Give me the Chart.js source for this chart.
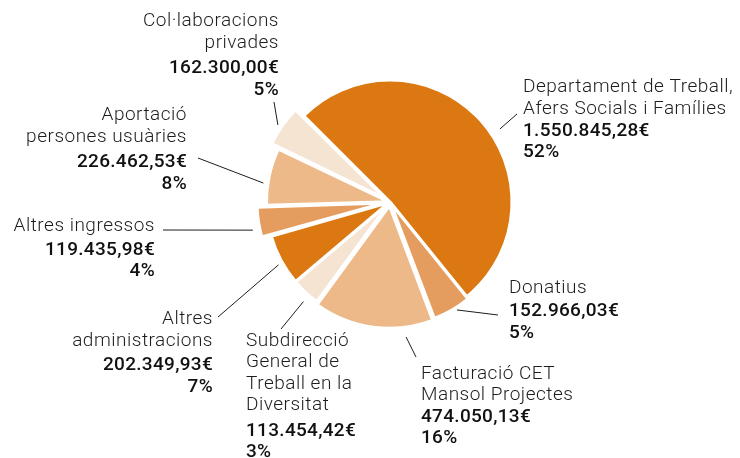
<!DOCTYPE html>
<html>
<head>
<meta charset="utf-8">
<script src="https://cdn.jsdelivr.net/npm/chart.js@4"></script>
<style>
  html, body { margin: 0; padding: 0; background: #fff; }
  #chartCanvas { display: block; }
</style>
</head>
<body>
<canvas id="chartCanvas" width="740" height="458"></canvas>
<script>
// dades
const categories = [
    'Departament de Treball,\nAfers Socials i Famílies',
    'Donatius',
    'Facturació CET\nMansol Projectes',
    'Subdirecció\nGeneral de\nTreball en la\nDiversitat',
    'Altres\nadministracions',
    'Altres ingressos',
    'Aportació\npersones usuàries',
    'Col·laboracions\nprivades'
];
const amounts = [1550845.28, 152966.03, 474050.13, 113454.42, 202349.93, 119435.98, 226462.53, 162300.00];
const percents = ['52%', '5%', '16%', '3%', '7%', '4%', '8%', '5%'];

const colors = ['#dc7811', '#e59d5f', '#edb989', '#f6e4d2', '#dc7811', '#e59d5f', '#edb989', '#f6e4d2'];
const explode = [0, 6, 15, 4, 4, 25, 4, 24];

// posició de les etiquetes: x, alineació, y de la primera línia, salt abans de l'import,
// i la línia guia (angle i radi d'inici respecte al centre, punt final)
const labelLayout = [
    { x: 523, align: 'left',  y: 87.5, gap: 22,   ang: -33.6, r: 132, ex: 517, ey: 114 },
    { x: 509, align: 'left',  y: 288.5, gap: 23,  ang: 58.2,  r: 127, ex: 498, ey: 315 },
    { x: 421, align: 'left',  y: 374, gap: 21.5,  ang: 83.2,  r: 136, ex: 416, ey: 357 },
    { x: 246, align: 'left',  y: 341, gap: 25.5,  ang: 131,   r: 132, ex: 281, ey: 329 },
    { x: 213, align: 'right', y: 319.5, gap: 24.5, ang: 150.6, r: 128, ex: 218, ey: 317 },
    { x: 155, align: 'right', y: 226.5, gap: 23.5, ang: 168.4, r: 140, ex: 163, ey: 230 },
    { x: 187, align: 'right', y: 115.5, gap: 25.5, ang: 188.5, r: 128, ex: 198, ey: 158 },
    { x: 279, align: 'right', y: 21.5, gap: 25.5,  ang: 214.5, r: 136, ex: 274, ey: 102 }
];

function formatEuro(v) {
    const parts = v.toFixed(2).split('.');
    const intPart = parts[0].replace(/\B(?=(\d{3})+(?!\d))/g, '.');
    return intPart + ',' + parts[1] + '€';
}

const lineH = 21.5;

const labelsPlugin = {
    id: 'pieLabels',
    afterDraw(chart) {
        const ctx = chart.ctx;
        const meta = chart.getDatasetMeta(0);
        ctx.save();
        meta.data.forEach((arc, i) => {
            const lay = labelLayout[i];
            const a = lay.ang * Math.PI / 180;
            // línia guia
            ctx.strokeStyle = '#1d1d1b';
            ctx.lineWidth = 1;
            ctx.beginPath();
            ctx.moveTo(arc.x + Math.cos(a) * lay.r, arc.y + Math.sin(a) * lay.r);
            ctx.lineTo(lay.ex, lay.ey);
            ctx.stroke();

            ctx.fillStyle = '#1d1d1b';
            ctx.textAlign = lay.align;
            ctx.textBaseline = 'middle';
            let y = lay.y;
            const lines = categories[i].split('\n');
            ctx.font = '300 19px Roboto';
            ctx.letterSpacing = '0.5px';
            lines.forEach((ln, k) => {
                ctx.fillText(ln, lay.x, y);
                if (k < lines.length - 1) y += lineH;
            });
            y += lay.gap;
            ctx.fillStyle = '#111111';
            ctx.font = '500 19px Roboto';
            ctx.letterSpacing = '0.3px';
            ctx.fillText(formatEuro(amounts[i]), lay.x, y);
            y += lineH;
            ctx.fillText(percents[i], lay.x, y);
        });
        ctx.restore();
    }
};

document.addEventListener('DOMContentLoaded', () => {
    const ctx = document.getElementById('chartCanvas').getContext('2d');
    new Chart(ctx, {
        type: 'pie',
        data: {
            labels: categories,
            datasets: [{
                data: amounts,
                backgroundColor: colors,
                borderColor: '#ffffff',
                borderWidth: 3,
                offset: explode
            }]
        },
        options: {
            responsive: false,
            devicePixelRatio: 1,
            animation: false,
            rotation: -45,
            radius: 122,
            layout: { padding: { left: 40, right: 0, top: 0, bottom: 54 } },
            plugins: {
                legend: { display: false },
                tooltip: { enabled: false }
            }
        },
        plugins: [labelsPlugin]
    });
});
</script>
</body>
</html>
